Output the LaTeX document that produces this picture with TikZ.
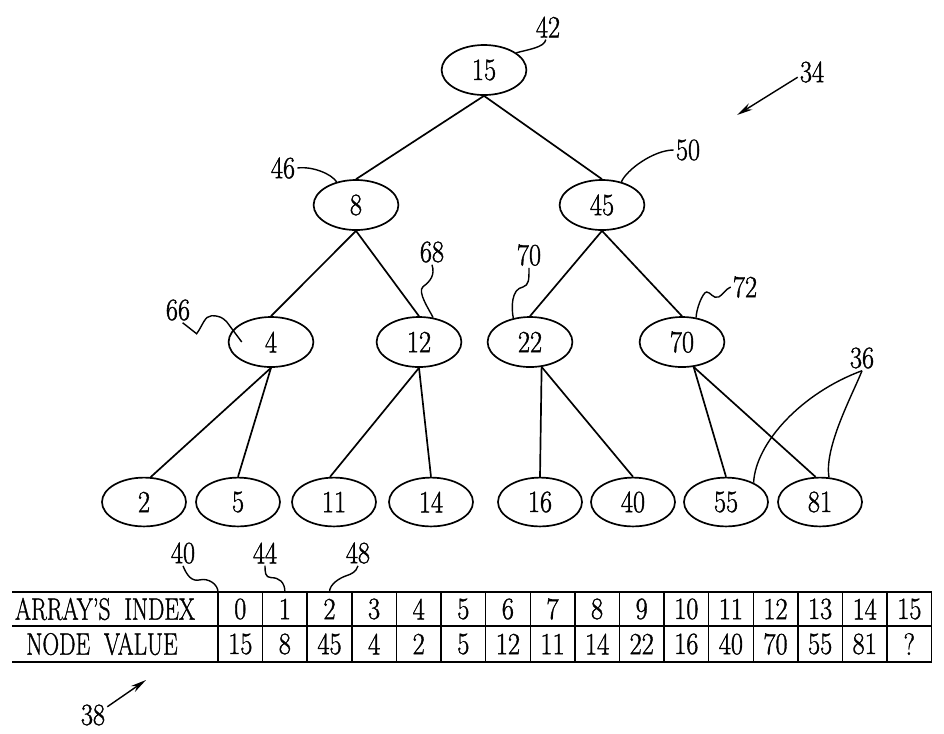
\documentclass[tikz,border=0pt]{standalone}
\usepackage{fontspec}
\setmainfont{Latin Modern Roman}[FakeStretch=0.85, FakeBold=1.2]
\usepackage{tikz}
\usetikzlibrary{arrows.meta,positioning,shapes.geometric}

\newcommand{\narrowtext}[1]{\scalebox{0.88}[1]{#1}}

\begin{document}
\begin{tikzpicture}[
    x=0.025cm, y=-0.025cm,
    font=\fontsize{22}{26}\selectfont,
    line width=1.2pt,
    treenode/.style={draw, ellipse, inner sep=0pt, minimum width=2.12cm, minimum height=1.25cm},
    leafnode/.style={treenode, minimum width=2.1cm, minimum height=1.22cm},
    refnum/.style={inner sep=1pt},
    callout/.style={line width=1pt},
    pointer/.style={-{Stealth[length=4mm, width=1.8mm]}, line width=1pt},
    idxcell/.style={draw, line width=1pt, minimum width=1.115cm, minimum height=0.85cm, inner sep=0pt, outer sep=0pt},
    valcell/.style={idxcell, minimum height=0.9cm},
    tablerule/.style={line width=1.7pt}
]
\useasboundingbox (0,0) rectangle (944,733);

% tree
\node[treenode] (n15) at (484,70) {15};
\node[treenode] (n8) at (356,205) {8};
\node[treenode] (n45) at (602,205) {45};
\node[treenode] (n4) at (271,342) {4};
\node[treenode] (n12) at (419,342) {12};
\node[treenode] (n22) at (530,342) {22};
\node[treenode] (n70) at (682,342) {70};

\node[leafnode] (n2) at (144,502) {2};
\node[leafnode] (n5) at (238,502) {5};
\node[leafnode] (n11) at (334,502) {11};
\node[leafnode] (n14) at (431,502) {14};
\node[leafnode] (n16) at (540,502) {16};
\node[leafnode] (n40) at (633,502) {40};
\node[leafnode] (n55) at (726,502) {55};
\node[leafnode] (n81) at (820,502) {81};

\draw (n15.south) -- (n8.north);
\draw (n15.south) -- (n45.north);
\draw (n8.south) -- (n4.north);
\draw (n8.south) -- (n12.north);
\draw (n45.south) -- (n22.north);
\draw (n45.south) -- (n70.north);
\draw (n4.south) -- (n2.75);
\draw (n4.south) -- (n5.north);
\draw (n12.south) -- (n11.99);
\draw (n12.south) -- (n14.north);
\draw (n22.295) -- (n16.north);
\draw (n22.295) -- (n40.north);
\draw (n70.295) -- (n55.north);
\draw (n70.295) -- (n81.100);

% reference numerals
\node[refnum] (l42) at (548,27) {42};
\node[refnum] (l34) at (812,72) {34};
\node[refnum] (l46) at (283,168) {46};
\node[refnum] (l50) at (688,150) {50};
\node[refnum] (l66) at (178,310) {66};
\node[refnum] (l68) at (432,252) {68};
\node[refnum] (l70b) at (529,255) {70};
\node[refnum] (l72) at (745,287) {72};
\node[refnum] (l36) at (862,358) {36};
\node[refnum] (l40) at (183,553) {40};
\node[refnum] (l44) at (265,553) {44};
\node[refnum] (l48) at (358,553) {48};
\node[refnum] (l38) at (93,715) {38};

\coordinate (tip34) at (737,115);
\coordinate (tip38) at (146,680);

\draw[callout] (l42.260) .. controls +(-1,8) and +(10,-3) .. (n15.28);
\draw[pointer] (l34.200) -- (tip34);
\draw[callout] (l46.east) .. controls +(15,-2) and +(-5,-8) .. (n8.130);
\draw[callout] (l50.west) .. controls +(-20,0) and +(5,-12) .. (n45.50);
\draw[callout] (l66.290) -- ++(14,11) .. controls +(6,-8) and +(-7,0) .. ++(15,-18)
    .. controls +(8,0) and +(-4,-4) .. ++(15,6) -- ([xshift=0.35cm]n4.west);
\draw[callout] (l68.south) .. controls +(3,10) and +(8,-6) .. ++(-9,22)
    .. controls +(-6,5) and +(-4,-8) .. (n12.60);
\draw[callout] (l70b.south) .. controls +(0,12) and +(6,-2) .. ++(-6,19)
    .. controls +(-12,2) and +(-2,-10) .. (n22.125);
\draw[callout] (l72.west) .. controls +(-5,2) and +(4,-2) .. ++(-12,10)
    .. controls +(-6,2) and +(4,0) .. ++(-12,-5)
    .. controls +(-4,0) and +(0,-8) .. (n70.60);
\draw[callout] (l36.south) .. controls +(-60,22) and +(2,-40) .. (n55.35);
\draw[callout] (l36.south) .. controls +(-10,25) and +(-5,-30) .. (n81.70);
\draw[pointer] (l38.30) -- (tip38);

% array table
\coordinate (tblleft) at (12,592);
\node (lblidx) at (105,609) {\narrowtext{ARRAY'S\ \ INDEX}};
\node (lblval) at (102,644) {\narrowtext{NODE\ \ VALUE}};
\foreach \v [count=\i from 0] in {15,8,45,4,2,5,12,11,14,22,16,40,70,55,81,?} {
    \node[idxcell] (idx\i) at ({218+44.6*(\i+0.5)},609) {\i};
    \node[valcell] (val\i) at ({218+44.6*(\i+0.5)},644) {\v};
}
\draw[tablerule] (tblleft |- idx0.north) -- (idx15.north east);
\draw[tablerule] (tblleft |- idx0.south) -- (idx15.south east);
\draw[tablerule] (tblleft |- val0.south) -- (val15.south east);

\draw[callout] (l40.south) .. controls +(4,10) and +(-8,2) .. ++(17,14)
    .. controls +(8,-2) and +(0,-8) .. (idx0.north west);
\draw[callout] (l44.south) .. controls +(0,6) and +(-6,0) .. ++(6,12)
    .. controls +(8,0) and +(0,-10) .. (idx1.north);
\draw[callout] (l48.south) .. controls +(-2,6) and +(6,-2) .. ++(-12,10)
    .. controls +(-6,2) and +(0,-8) .. (idx2.north);
\end{tikzpicture}
\end{document}
